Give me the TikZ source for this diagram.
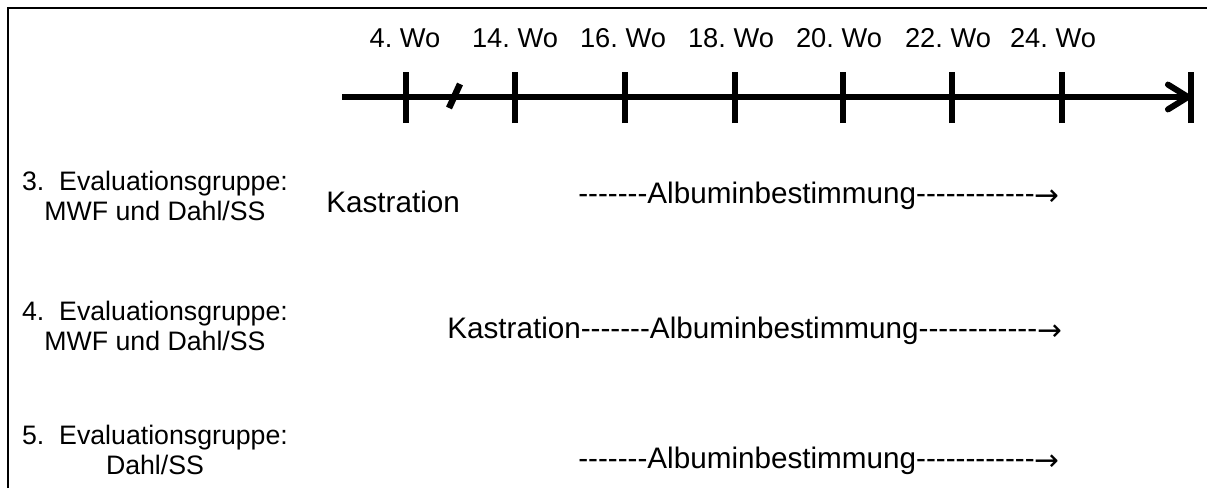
\documentclass[tikz,border=0pt]{standalone}
\usepackage{fontspec}
\setmainfont{Liberation Sans}[Ligatures=TeXOff]
\newfontfamily\arrowfont{DejaVu Sans}
\usetikzlibrary{arrows.meta}
\tikzset{>={Straight Barb[round,length=0.5cm,width=0.62cm]}}
\tikzset{
	axisline/.style={line width=4.3pt},
	tickline/.style={line width=4.6pt},
	wolabel/.style={anchor=base,font=\fontsize{19.4}{21.3}\selectfont},
	rowtext/.style={anchor=base west,inner sep=0pt,font=\fontsize{21.1}{23}\selectfont},
	grouplabel/.style={align=center,font=\fontsize{19}{21.3}\selectfont}
}
\newcommand{\rarr}{\raisebox{-0.08em}{\arrowfont →}}
\frenchspacing

\begin{document}
\begin{tikzpicture}
				\useasboundingbox (0,0) rectangle (30.175,12.2);
				\draw[line width=1.5pt] (0.2,0)--(0.2,12.0)--(30.175,12.0);
				\coordinate (S) at (8.55,9.775);
				\coordinate (E) at (29.775,9.775);
				\draw[axisline,->] (S)--(E);
				% ticks
				\draw[tickline] (10.15,9.125)--(10.15,10.4);
				\draw[tickline] (12.875,9.125)--(12.875,10.4);
				\draw[tickline] (15.625,9.125)--(15.625,10.4);
				\draw[tickline] (18.375,9.125)--(18.375,10.4);
				\draw[tickline] (21.075,9.125)--(21.075,10.4);
				\draw[tickline] (23.8,9.125)--(23.8,10.4);
				\draw[tickline] (26.55,9.125)--(26.55,10.4);
				\draw[tickline] (29.775,9.125)--(29.775,10.4);
				\draw[tickline] (11.225,9.5)--(11.5,10.1);
				% weeks
				\node[wolabel] (w4) at (10.125,11.025) {4. Wo};
				\node[wolabel] (w14) at (12.875,11.025) {14. Wo};
				\node[wolabel] (w16) at (15.575,11.025) {16. Wo};
				\node[wolabel] (w18) at (18.275,11.025) {18. Wo};
				\node[wolabel] (w20) at (20.975,11.025) {20. Wo};
				\node[wolabel] (w22) at (23.7,11.025) {22. Wo};
				\node[wolabel] (w24) at (26.325,11.025) {24. Wo};
				% groups
				\node[grouplabel] (g3) at (3.875,7.3) {3.\ \ Evaluationsgruppe:\\MWF und Dahl/SS};
				\node[grouplabel] (g4) at (3.875,4.05) {4.\ \ Evaluationsgruppe:\\MWF und Dahl/SS};
				\node[grouplabel] (g5) at (3.875,0.95) {5.\ \ Evaluationsgruppe:\\Dahl/SS};
				\node[rowtext] (k3) at (8.15,6.9) {Kastration};
				\node[rowtext] (a3) at (14.45,7.125) {-------Albuminbestimmung------------\rarr};
				\node[rowtext] (a4) at (11.175,3.75) {Kastration-------Albuminbestimmung------------\rarr};
				\node[rowtext] (a5) at (14.45,0.5) {-------Albuminbestimmung------------\rarr};
\end{tikzpicture}
\end{document}
